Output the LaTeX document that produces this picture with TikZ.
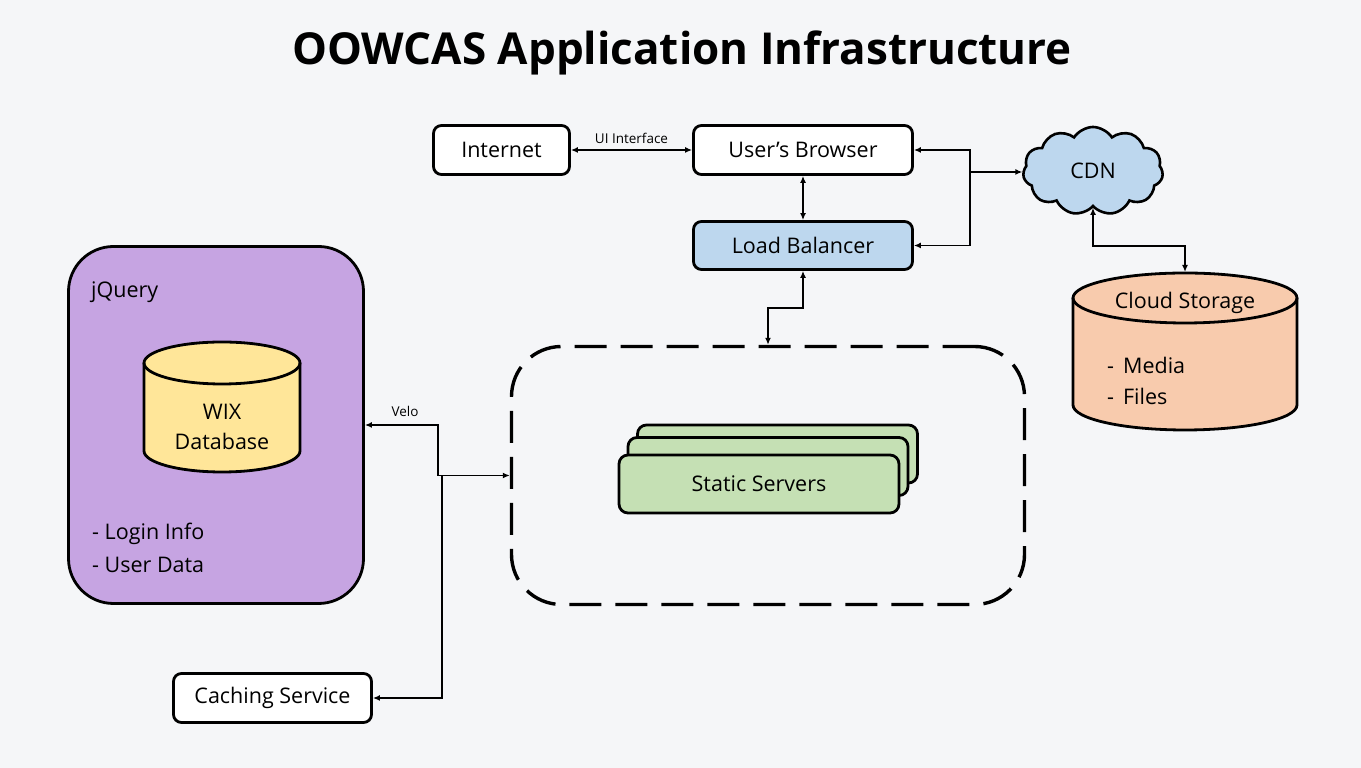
\documentclass[tikz,border=0pt]{standalone}
\usepackage{fontspec}
\setmainfont{Open Sans}
\usetikzlibrary{arrows.meta,shapes.symbols}
\definecolor{bgc}{HTML}{F5F6F8}
\definecolor{lblue}{HTML}{BDD7EE}
\definecolor{lpurple}{HTML}{C6A4E2}
\definecolor{lyellow}{HTML}{FFE699}
\definecolor{lorange}{HTML}{F8CBAD}
\definecolor{lgreen}{HTML}{C5E0B4}
\begin{document}
\begin{tikzpicture}[x=1pt,y=1pt,
  >={Latex[length=7pt,width=6pt]},
  box/.style={draw, line width=2.8pt, rounded corners=8pt, fill=white, inner sep=0pt,
    font=\fontsize{21.5}{25}\selectfont},
  srv/.style={box, fill=lgreen, minimum width=280pt, minimum height=58pt, rounded corners=9pt},
  conn/.style={line width=1.4pt},
  lbl/.style={inner sep=0pt, font=\fontsize{21.5}{25}\selectfont},
  small/.style={inner sep=0pt, font=\fontsize{13.5}{16}\selectfont},
  cyl/.style={draw, line width=2.8pt}
]
\useasboundingbox (0,0) rectangle (1361,768);
\fill[bgc] (0,0) rectangle (1361,768);

% title
\node[inner sep=0pt, font=\fontsize{44}{52}\selectfont\bfseries] (title) at (682,715) {OOWCAS Application Infrastructure};

% top boxes
\node[box, minimum width=136pt, minimum height=49pt] (inet) at (501.5,618) {Internet};
\node[box, minimum width=219pt, minimum height=49pt] (brow) at (803,618) {User’s Browser};
\node[box, fill=lblue, minimum width=219pt, minimum height=48pt] (lb) at (803,522.5) {Load Balancer};
\node[box, minimum width=198pt, minimum height=49pt] (cache) at (272.5,70) {Caching Service};

% CDN cloud
\node[cloud, cloud puffs=11, cloud puff arc=115, aspect=1.5, draw, line width=2.6pt, fill=lblue,
  minimum width=140pt, minimum height=88pt, inner sep=0pt, font=\fontsize{21.5}{25}\selectfont] (cdn) at (1093,597) {CDN};

% jQuery box
\node[box, fill=lpurple, minimum width=295pt, minimum height=357pt, rounded corners=45pt] (jq) at (216,343) {};
\node[lbl, anchor=west] (jqt) at (91,476) {jQuery};
\node[lbl, anchor=west] (li) at (92,234) {- Login Info};
\node[lbl, anchor=west] (ud) at (92,203) {- User Data};

% WIX database cylinder
\fill[lyellow] (144,405) -- (144,317) arc[start angle=180, end angle=360, x radius=78pt, y radius=21pt] -- (300,405) -- cycle;
\fill[lyellow] (222,405) ellipse [x radius=78pt, y radius=21pt];
\draw[cyl] (144,405) -- (144,317) arc[start angle=180, end angle=360, x radius=78pt, y radius=21pt] -- (300,405);
\draw[cyl] (222,405) ellipse [x radius=78pt, y radius=21pt];
\node[lbl] (wix1) at (222,356) {WIX};
\node[lbl] (wix2) at (222,327) {Database};

% Cloud storage cylinder
\fill[lorange] (1073,470) -- (1073,363) arc[start angle=180, end angle=360, x radius=112pt, y radius=25pt] -- (1297,470) -- cycle;
\fill[lorange] (1185,470) ellipse [x radius=112pt, y radius=25pt];
\draw[cyl] (1073,470) -- (1073,363) arc[start angle=180, end angle=360, x radius=112pt, y radius=25pt] -- (1297,470);
\draw[cyl] (1185,470) ellipse [x radius=112pt, y radius=25pt];
\coordinate (cstop) at (1185,496);
\node[lbl] (cst) at (1185,465) {Cloud Storage};
\node[lbl, anchor=west] (med) at (1107,403) {-\hspace{9pt}Media};
\node[lbl, anchor=west] (fil) at (1107,372) {-\hspace{9pt}Files};

% dashed container
\node[draw, line width=3.4pt, dash pattern=on 32pt off 14pt, rounded corners=50pt,
  minimum width=513pt, minimum height=258pt, inner sep=0pt] (dash) at (768,292.5) {};

% static servers
\node[srv] (s3) at (777.5,314) {};
\node[srv] (s2) at (768,301.5) {};
\node[srv] (s1) at (759,284) {Static Servers};

% connectors
\draw[conn, <->] (inet.east) -- (brow.west) node[small, midway, above=6pt] (uil) {UI Interface};
\draw[conn, <->] (brow.south) -- (lb.north);
\coordinate (jb) at (970,596);
\draw[conn, <->] (brow.east) -| (jb) |- (lb.east);
\draw[conn, ->] (jb) -- (cdn.west |- jb);
\coordinate (jc) at (1140,522);
\draw[conn, <->] (cdn.south) |- (jc) -| (cstop);
\coordinate (jl) at (785,460);
\draw[conn, <->] (lb.south) |- (jl) -| (dash.north);
\coordinate (jv) at (438,320);
\draw[conn, <->] (jq.east) -| (jv) |- (dash.west);
\node[small] (velo) at (405,357) {Velo};
\coordinate (jcs) at (442,292.5);
\draw[conn, ->] (jcs) |- (cache.east);
\end{tikzpicture}
\end{document}
